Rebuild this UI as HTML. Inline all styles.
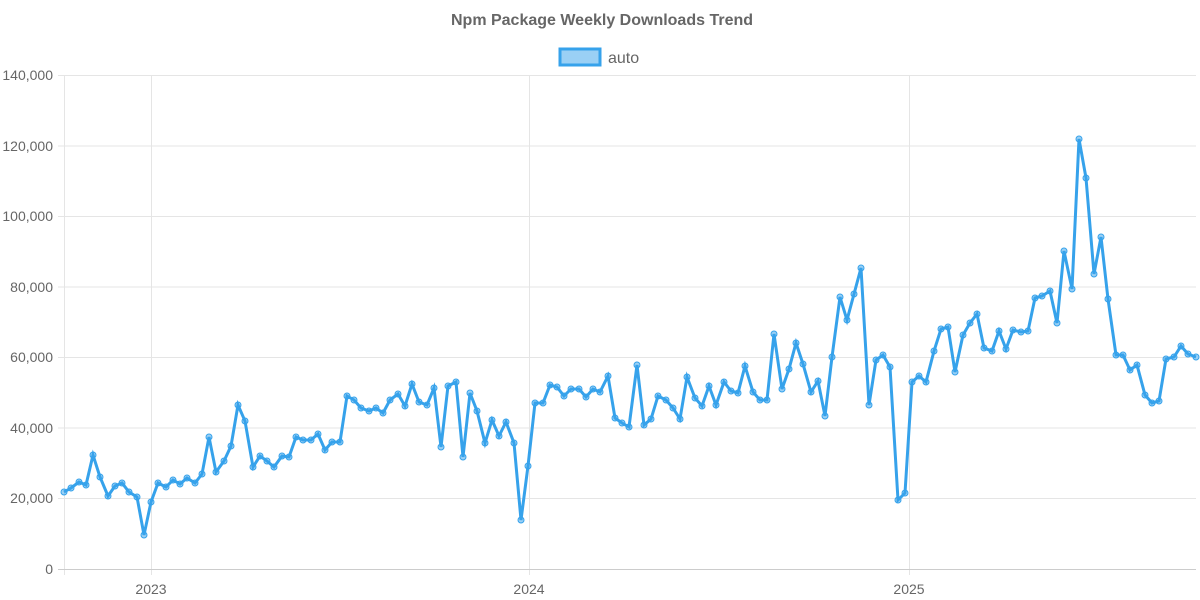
<!DOCTYPE html>
<html><head><meta charset="utf-8"><style>
html,body{margin:0;padding:0;background:#fff;}
svg{display:block;font-family:"Liberation Sans",Arial,sans-serif;}
</style></head><body>
<svg width="1200" height="600" viewBox="0 0 1200 600">
<text x="602" y="25" text-anchor="middle" font-size="16" font-weight="bold" fill="#666">Npm Package Weekly Downloads Trend</text>
<rect x="560" y="49" width="40" height="16" fill="rgba(54,162,235,0.5)" stroke="#36a2eb" stroke-width="3"/>
<text x="608" y="63" font-size="16" fill="#666">auto</text>
<g stroke="#e5e5e5" stroke-width="1">
<line x1="58" y1="75.5" x2="1196" y2="75.5"/>
<line x1="58" y1="146" x2="1196" y2="146"/>
<line x1="58" y1="216.5" x2="1196" y2="216.5"/>
<line x1="58" y1="287" x2="1196" y2="287"/>
<line x1="58" y1="357.5" x2="1196" y2="357.5"/>
<line x1="58" y1="428" x2="1196" y2="428"/>
<line x1="58" y1="498.5" x2="1196" y2="498.5"/>
<line x1="64.5" y1="75" x2="64.5" y2="575"/>
<line x1="151.5" y1="75" x2="151.5" y2="575"/>
<line x1="529.5" y1="75" x2="529.5" y2="575"/>
<line x1="909.5" y1="75" x2="909.5" y2="575"/>
</g>
<line x1="58" y1="569.5" x2="1196" y2="569.5" stroke="#ccc"/>
<g font-size="14" fill="#666" text-anchor="end">
<text x="53" y="80">140,000</text><text x="53" y="151">120,000</text><text x="53" y="221">100,000</text>
<text x="53" y="292">80,000</text><text x="53" y="362">60,000</text><text x="53" y="433">40,000</text>
<text x="53" y="503">20,000</text><text x="53" y="574">0</text>
</g>
<g font-size="14" fill="#666" text-anchor="middle">
<text x="151" y="594">2023</text><text x="529" y="594">2024</text><text x="909" y="594">2025</text>
</g>
<polyline id="p" fill="none" stroke="#36a2eb" stroke-width="3" stroke-linejoin="miter" points="64,492 71,488 79,482 86,485 93,455 100,477 108,496 115,486 122,483 129,492 137,497 144,535 151,502 158,483 166,487 173,480 180,484 187,478 195,483 202,474 209,437 216,472 224,461 231,446 238,405 245,421 253,467 260,456 267,461 274,467 282,456 289,457 296,437 303,440 311,440 318,434 325,450 332,442 340,442 347,396 354,400 361,408 369,411 376,408 383,413 390,400 398,394 405,406 412,384 419,402 427,405 434,388 441,447 448,386 456,382 463,457 470,393 477,411 485,443 492,420 499,436 506,422 514,443 521,520 528,466 535,403 543,403 550,385 557,387 564,396 571,389 579,389 586,397 593,389 600,392 608,376 615,418 622,423 629,427 637,365 644,425 651,419 658,396 666,400 673,408 680,419 687,377 695,398 702,406 709,386 716,405 724,382 731,391 738,393 745,366 753,392 760,400 767,400 774,334 782,389 789,369 796,343 803,364 811,392 818,381 825,416 832,357 840,297 847,320 854,294 861,268 869,405 876,360 883,355 890,367 898,500 905,493 912,382 919,376 926,382 934,351 941,329 948,327 955,372 963,335 970,323 977,314 984,348 992,351 999,331 1006,349 1013,330 1021,332 1028,331 1035,298 1042,296 1050,291 1057,323 1064,251 1072,289 1079,139 1086,178 1094,274 1101,237 1108,299 1116,355 1123,355 1130,370 1137,365 1145,395 1152,403 1159,401 1166,359 1174,357 1181,346 1188,354 1196,357"/>
<g id="dots" fill="rgba(54,162,235,0.5)" stroke="#36a2eb" stroke-width="1"></g>
<script>
var pts=document.getElementById('p').getAttribute('points').trim().split(/\s+/);
var g=document.getElementById('dots');
pts.forEach(function(s){var a=s.split(',');var c=document.createElementNS('http://www.w3.org/2000/svg','circle');c.setAttribute('cx',a[0]);c.setAttribute('cy',a[1]);c.setAttribute('r','3');g.appendChild(c);});
</script>
</svg>
</body></html>
